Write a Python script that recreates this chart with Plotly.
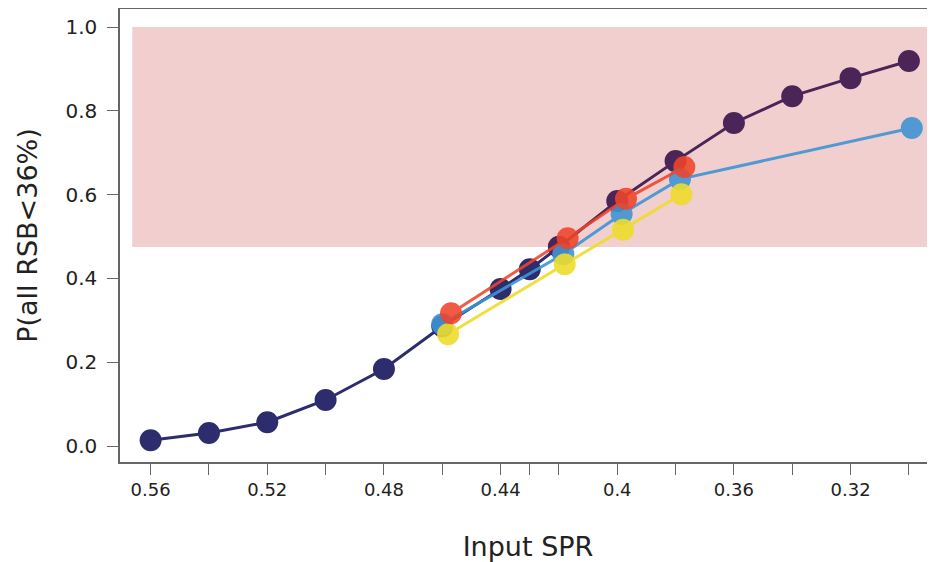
import plotly.graph_objects as go

# ---- data ----
navy_x = [0.56, 0.54, 0.52, 0.50, 0.48, 0.46, 0.44, 0.43, 0.42]
navy_y = [0.014, 0.031, 0.057, 0.110, 0.184, 0.286, 0.375, 0.422, 0.475]

purple_x = [0.42, 0.40, 0.38, 0.36, 0.34, 0.32, 0.30]
purple_y = [0.475, 0.585, 0.680, 0.771, 0.835, 0.878, 0.919]

blue_x = [0.46, 0.4185, 0.3985, 0.3785, 0.299]
blue_y = [0.291, 0.458, 0.554, 0.637, 0.759]

yellow_x = [0.458, 0.418, 0.398, 0.378]
yellow_y = [0.267, 0.434, 0.516, 0.601]

red_x = [0.457, 0.417, 0.397, 0.377]
red_y = [0.317, 0.496, 0.590, 0.666]

x_tickvals = [0.56, 0.54, 0.52, 0.50, 0.48, 0.46, 0.44, 0.43, 0.42, 0.40, 0.38, 0.36, 0.34, 0.32, 0.30]
x_ticktext = ["0.56", "", "0.52", "", "0.48", "", "0.44", "", "", "0.4", "", "0.36", "", "0.32", ""]
y_tickvals = [0.0, 0.2, 0.4, 0.6, 0.8, 1.0]
y_ticktext = ["0.0", "0.2", "0.4", "0.6", "0.8", "1.0"]

band_x = [0.5663, 0.2925]
band_y = [0.475, 1.0]

series = [
    (navy_x, navy_y, "#2d2c6c", 1.0),
    (purple_x, purple_y, "#4b2557", 1.0),
    (blue_x, blue_y, "#3f94d4", 0.9),
    (yellow_x, yellow_y, "#eedc2c", 0.9),
    (red_x, red_y, "#f0442a", 0.88),
]

fig = go.Figure()
for xs, ys, col, op in series:
    fig.add_trace(go.Scatter(
        x=xs, y=ys, mode="lines+markers",
        line=dict(color=col, width=3),
        marker=dict(color=col, size=22, line=dict(width=0)),
        opacity=op, showlegend=False,
    ))

fig.add_shape(type="rect", xref="x", yref="y",
              x0=band_x[0], x1=band_x[1], y0=band_y[0], y1=band_y[1],
              fillcolor="#f1cfcf", line=dict(width=0), layer="below")

axis_col = "#666666"
fig.update_layout(
    width=928, height=555,
    margin=dict(l=112, r=0, t=1, b=101),
    paper_bgcolor="white", plot_bgcolor="white",
    font=dict(family="DejaVu Sans", color="#222222"),
    xaxis=dict(
        range=[0.5705, 0.2907], tickvals=x_tickvals, ticktext=x_ticktext,
        automargin=False,
        showgrid=False, zeroline=False, showline=True, mirror=True,
        linecolor=axis_col, linewidth=1.5,
        ticks="outside", ticklen=11, tickwidth=1.2, tickcolor=axis_col,
        tickfont=dict(size=18),
        title=dict(text="Input SPR", font=dict(size=27), standoff=38),
    ),
    yaxis=dict(
        range=[-0.038, 1.043], tickvals=y_tickvals, ticktext=y_ticktext,
        automargin=False,
        showgrid=False, zeroline=False, showline=True,
        linecolor=axis_col, linewidth=1.5,
        ticks="outside", ticklen=11, tickwidth=1.2, tickcolor=axis_col,
        tickfont=dict(size=20), ticklabelstandoff=6,
        title=dict(text="P(all RSB<36%)", font=dict(size=27), standoff=20),
    ),
)

fig.write_html("out.html")
